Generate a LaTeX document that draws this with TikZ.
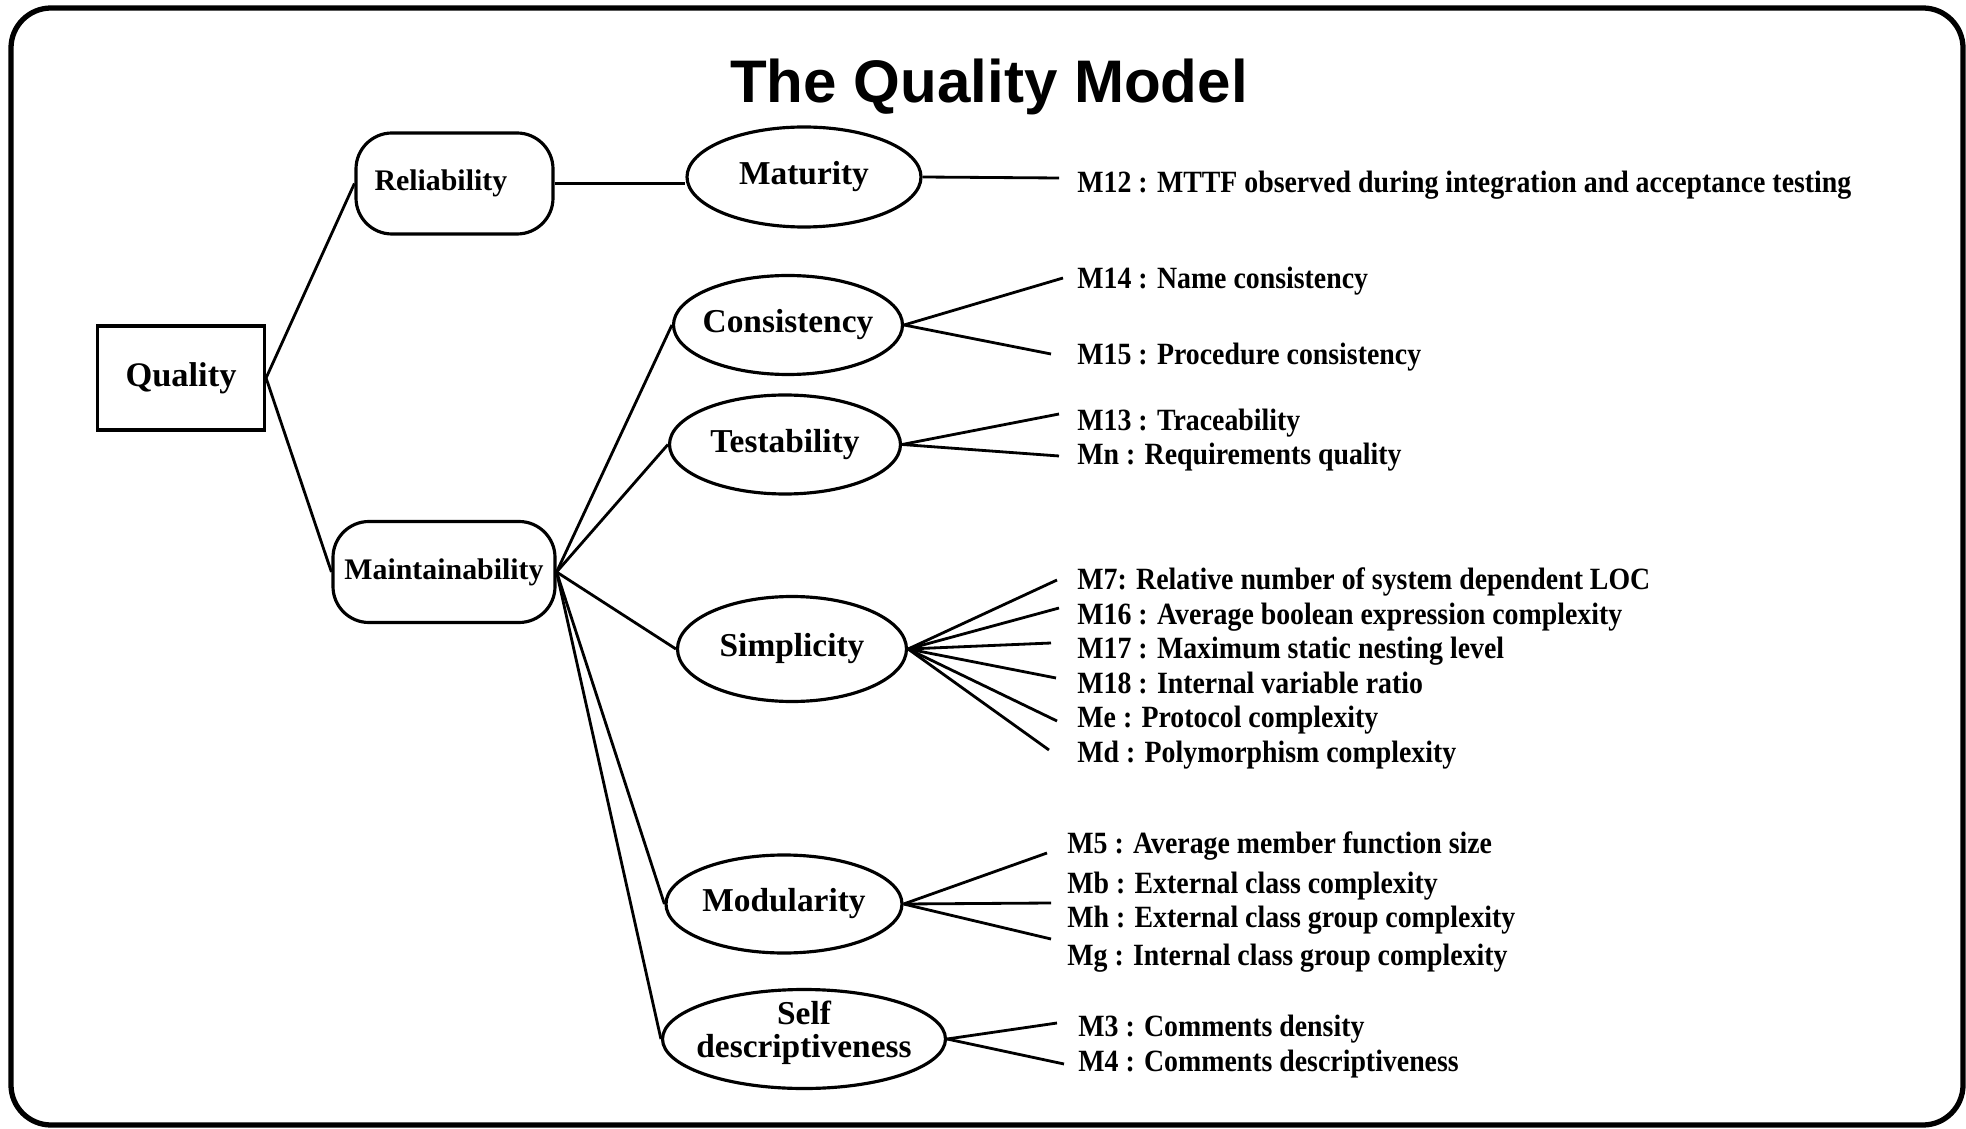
\documentclass[tikz,border=0pt]{standalone}
\usepackage{fontspec}
\setmainfont{Liberation Serif}
\newfontfamily\titlefont{Liberation Sans}
\newfontfamily\metricfont[FakeStretch=0.9]{Liberation Serif}
\usetikzlibrary{shapes.geometric}

\begin{document}
\begin{tikzpicture}[
  line width=0.8pt,
  box/.style={draw,line width=0.9pt,minimum width=1.67cm,minimum height=1.04cm,font=\fontsize{9.8}{11}\selectfont\bfseries},
  rbox/.style={draw,line width=0.9pt,rounded corners=0.36cm,inner sep=2pt,minimum height=1.01cm,font=\fontsize{8.5}{10}\selectfont\bfseries},
  oval/.style={draw,ellipse,line width=0.9pt,inner xsep=-5pt,inner ysep=0pt,minimum height=0.99cm,align=center,font=\fontsize{9.5}{9.6}\selectfont\bfseries},
  metric/.style={anchor=west,inner sep=0pt,text height=1.6ex,text depth=0.3ex,font=\metricfont\fontsize{8.8}{10}\selectfont\bfseries}
]
  \useasboundingbox (0,0) rectangle (19.66,11.28);
  % frame and title
  \draw [line width=1.5pt,rounded corners=0.4cm](0.11,0.03) rectangle (19.63,11.20);
  \node at(9.89,10.25)[anchor=base,font=\titlefont\fontsize{17.1}{20}\selectfont\bfseries](title){The Quality Model};
  % factors and criteria
  \node at(1.81,7.50)[box](quality){Quality};
  \node at(4.545,9.445)[rbox,minimum width=1.97cm](reliab){\makebox[1.6cm][l]{Reliability}};
  \node at(4.44,5.56)[rbox,minimum width=2.22cm](maint){Maintainability};
  \node at(8.04,9.51)[oval,minimum width=2.34cm,minimum height=1.00cm](matur){Maturity};
  \node at(7.88,8.03)[oval,minimum width=2.29cm](consist){Consistency};
  \node at(7.85,6.835)[oval,minimum width=2.31cm](testab){Testability};
  \node at(7.92,4.79)[oval,minimum width=2.29cm,minimum height=1.05cm](simpl){Simplicity};
  \node at(7.84,2.24)[oval,minimum width=2.36cm,minimum height=0.98cm](modul){Modularity};
  \node at(8.04,0.89)[oval,inner ysep=-3pt,minimum width=2.83cm](selfdesc){Self\\descriptiveness\\[-4pt]\mbox{}};
  % metrics
  \node at(10.76,9.46)[metric](m12){M12 : MTTF observed during integration and acceptance testing};
  \node at(10.76,8.50)[metric](m14){M14 : Name consistency};
  \node at(10.76,7.74)[metric](m15){M15 : Procedure consistency};
  \node at(10.76,7.08)[metric](m13){M13 : Traceability};
  \node at(10.76,6.74)[metric](mn){Mn : Requirements quality};
  \node at(10.76,5.49)[metric](m7){M7: Relative number of system dependent LOC};
  \node at(10.76,5.14)[metric](m16){M16 : Average boolean expression complexity};
  \node at(10.76,4.80)[metric](m17){M17 : Maximum static nesting level};
  \node at(10.76,4.45)[metric](m18){M18 : Internal variable ratio};
  \node at(10.76,4.11)[metric](me){Me : Protocol complexity};
  \node at(10.76,3.76)[metric](md){Md : Polymorphism complexity};
  \node at(10.66,2.85)[metric](m5){M5 : Average member function size};
  \node at(10.66,2.45)[metric](mb){Mb : External class complexity};
  \node at(10.66,2.11)[metric](mh){Mh : External class group complexity};
  \node at(10.66,1.73)[metric](mg){Mg : Internal class group complexity};
  \node at(10.77,1.02)[metric](m3){M3 : Comments density};
  \node at(10.77,0.67)[metric](m4){M4 : Comments descriptiveness};
  % loose ends of the metric lines
  \coordinate (e12) at(10.59,9.50);
  \coordinate (e14) at(10.63,8.50);
  \coordinate (e15) at(10.51,7.74);
  \coordinate (e13) at(10.59,7.14);
  \coordinate (en) at(10.59,6.72);
  \coordinate (e7) at(10.57,5.48);
  \coordinate (e16) at(10.59,5.20);
  \coordinate (e17) at(10.51,4.85);
  \coordinate (e18) at(10.56,4.50);
  \coordinate (ee) at(10.57,4.07);
  \coordinate (ed) at(10.49,3.78);
  \coordinate (e5) at(10.47,2.75);
  \coordinate (eh) at(10.51,2.25);
  \coordinate (eg) at(10.51,1.89);
  \coordinate (e3) at(10.57,1.05);
  \coordinate (e4) at(10.64,0.64);
  % tree
  \draw [](quality.east) -- (reliab.west);
  \draw [](quality.east) -- (maint.west);
  \draw [](reliab.east) -- (reliab.east -| matur.west);
  \draw [](maint.east) -- (consist.west);
  \draw [](maint.east) -- (testab.west);
  \draw [](maint.east) -- (simpl.west);
  \draw [](maint.east) -- (modul.west);
  \draw [](maint.east) -- (selfdesc.west);
  \draw [](matur.east) -- (e12);
  \draw [](consist.east) -- (e14);
  \draw [](consist.east) -- (e15);
  \draw [](testab.east) -- (e13);
  \draw [](testab.east) -- (en);
  \draw [](simpl.east) -- (e7);
  \draw [](simpl.east) -- (e16);
  \draw [](simpl.east) -- (e17);
  \draw [](simpl.east) -- (e18);
  \draw [](simpl.east) -- (ee);
  \draw [](simpl.east) -- (ed);
  \draw [](modul.east) -- (e5);
  \draw [](modul.east) -- (eh);
  \draw [](modul.east) -- (eg);
  \draw [](selfdesc.east) -- (e3);
  \draw [](selfdesc.east) -- (e4);
\end{tikzpicture}
\end{document}
